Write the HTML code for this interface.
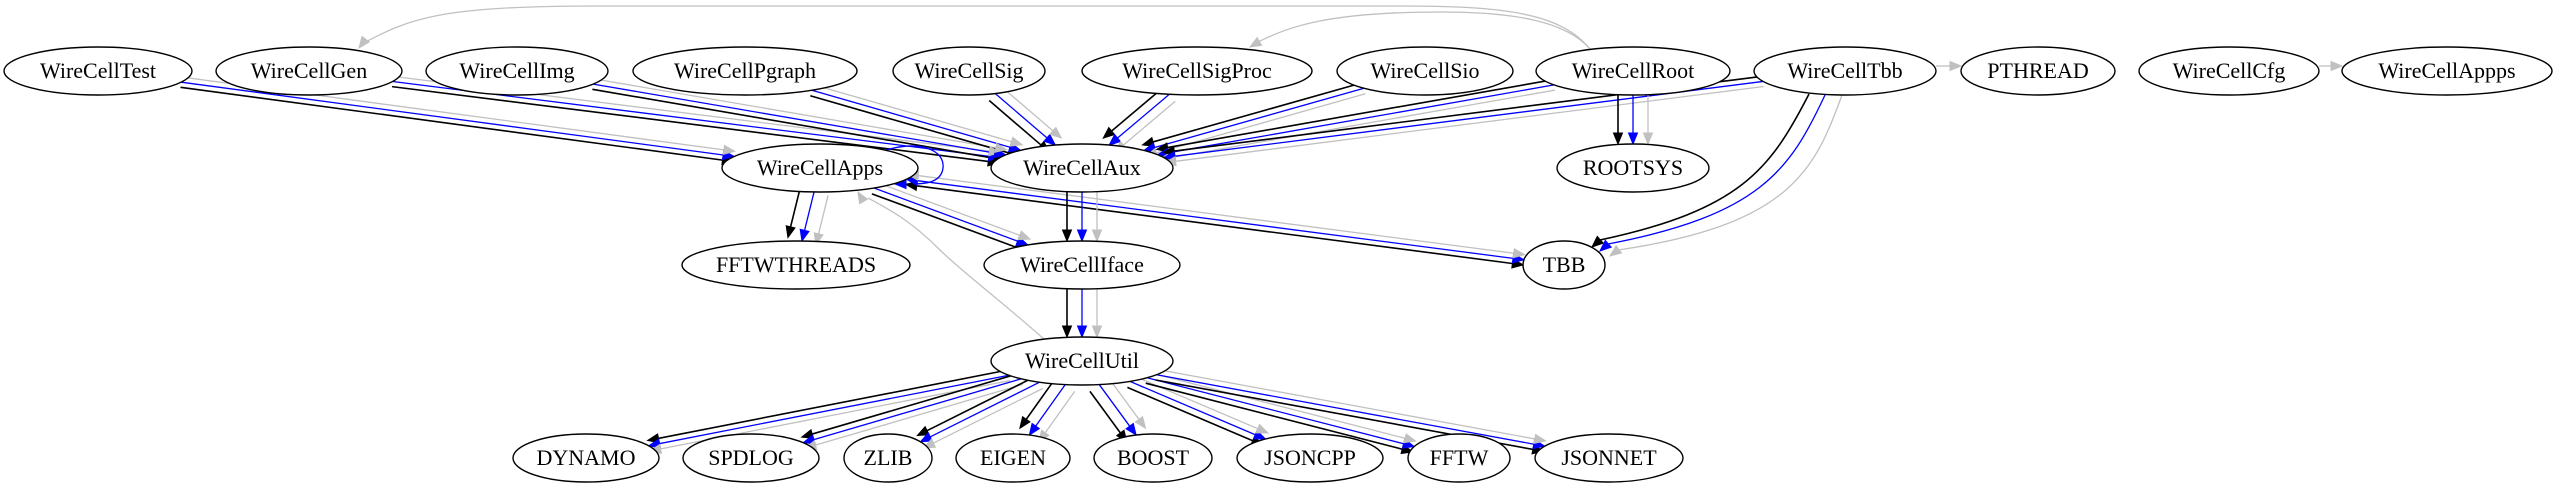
<!DOCTYPE html>
<html><head><meta charset="utf-8"><style>
html,body{margin:0;padding:0;background:#fff;}
svg{display:block}
text{font-family:"Liberation Serif",serif;font-size:22px;fill:#000}
</style></head><body>
<svg id="g" width="2557" height="484" viewBox="0 0 2557 484" xmlns="http://www.w3.org/2000/svg">
<g id="edges" fill="none"></g>
<g id="heads"></g>
<g id="nodes"></g>
</svg>
<script>
var N={
Test:[98,71,94,"WireCellTest"],Gen:[309,71,93,"WireCellGen"],Img:[517,71,91,"WireCellImg"],
Pgraph:[745,71,112,"WireCellPgraph"],Sig:[969,71,76,"WireCellSig"],SigProc:[1197,71,115,"WireCellSigProc"],
Sio:[1425,71,88,"WireCellSio"],Root:[1633,71,97,"WireCellRoot"],Tbb:[1845,71,91,"WireCellTbb"],
PTHREAD:[2038,71,77,"PTHREAD"],Cfg:[2229,71,90,"WireCellCfg"],Appps:[2447,71,105,"WireCellAppps"],
Apps:[820,168,98,"WireCellApps"],Aux:[1082,168,91,"WireCellAux"],ROOTSYS:[1633,168,76,"ROOTSYS"],
FFTWT:[796,265,114,"FFTWTHREADS"],Iface:[1082,265,98,"WireCellIface"],TBB:[1564,265,41,"TBB"],
Util:[1082,361,91,"WireCellUtil"],
DYNAMO:[586,458,73,"DYNAMO"],SPDLOG:[751,458,68,"SPDLOG"],ZLIB:[888,458,44,"ZLIB"],EIGEN:[1013,458,57,"EIGEN"],
BOOST:[1153,458,59,"BOOST"],JSONCPP:[1310,458,73,"JSONCPP"],FFTW:[1459,458,51,"FFTW"],JSONNET:[1609,458,74,"JSONNET"]};
var RY=24,NS="http://www.w3.org/2000/svg";
var E=document.getElementById("edges"),H=document.getElementById("heads"),ND=document.getElementById("nodes");
function el(t,a,p){var e=document.createElementNS(NS,t);for(var k in a)e.setAttribute(k,a[k]);p.appendChild(e);return e;}
function bnd(n,dx,dy){var a=N[n];var t=1/Math.sqrt((dx/a[2])*(dx/a[2])+(dy/RY)*(dy/RY));return [a[0]+t*dx,a[1]+t*dy];}
function head(tip,dx,dy,c){var L=11,W=4.5;var bx=tip[0]-dx*L,by=tip[1]-dy*L;
 el("polygon",{points:tip[0]+","+tip[1]+" "+(bx-dy*W)+","+(by+dx*W)+" "+(bx+dy*W)+","+(by-dx*W),fill:c,stroke:c,"stroke-width":1},H);}
var COL=[["#000",1,1.6],["#0000ff",0,1.3],["#c0c0c0",-1,1.3]];
function edge(a,b,cols,both){
 var A=N[a],B=N[b];var dx=B[0]-A[0],dy=B[1]-A[1],l=Math.hypot(dx,dy);dx/=l;dy/=l;
 var nx=-dy,ny=dx;var sep=5+10*Math.abs(dy)*Math.abs(dy);
 var s=bnd(a,dx,dy),t=bnd(b,-dx,-dy);
 COL.forEach(function(c,i){if(cols.indexOf(i)<0)return;var o=c[1]*sep;
  var s1=[s[0]+nx*o,s[1]+ny*o],t1=[t[0]+nx*o,t[1]+ny*o];
  var sx=s1[0]+(both?dx*10:0),sy=s1[1]+(both?dy*10:0);
  el("line",{x1:sx,y1:sy,x2:t1[0]-dx*10,y2:t1[1]-dy*10,stroke:c[0],"stroke-width":c[2]},E);
  head(t1,dx,dy,c[0]);if(both)head(s1,-dx,-dy,c[0]);});
}
var T=[0,1,2];
edge("Test","Apps",T);
["Gen","Img","Pgraph","Sig","SigProc","Sio","Root","Tbb"].forEach(function(n){edge(n,"Aux",T)});
edge("Apps","FFTWT",T);edge("Apps","Iface",T);edge("Apps","TBB",T,true);
edge("Aux","Iface",T);edge("Iface","Util",T);edge("Root","ROOTSYS",T);
["DYNAMO","SPDLOG","ZLIB","EIGEN","BOOST","JSONCPP","FFTW","JSONNET"].forEach(function(n){edge("Util",n,T)});
edge("Tbb","PTHREAD",[2]);edge("Cfg","Appps",[2]);
// Tbb -> TBB curves
[["#000",1.6,"M1809,94 C1770,170 1740,210 1600,240",[1592,247],-0.75,0.66],
 ["#0000ff",1.3,"M1825,95 C1790,170 1760,215 1608,244",[1600,251],-0.75,0.66],
 ["#c0c0c0",1.3,"M1842,95 C1815,170 1790,225 1618,250",[1610,256],-0.8,0.6]].forEach(function(p){
 el("path",{d:p[2],stroke:p[0],"stroke-width":p[1]},E);head(p[3],p[4],p[5],p[0]);});
el("path",{d:"M1590,49 C1560,12 1500,6 1400,6 L600,6 C440,6 410,18 362,44",stroke:"#c0c0c0","stroke-width":1.3},E);
head([359,48],-0.6,0.8,"#c0c0c0");
el("path",{d:"M1590,49 C1565,20 1510,12 1440,12 C1330,12 1290,26 1258,42",stroke:"#c0c0c0","stroke-width":1.3},E);
head([1250,47],-0.85,0.5,"#c0c0c0");
el("path",{d:"M1045,340 C1000,300 960,270 940,250 C910,220 890,210 868,198",stroke:"#c0c0c0","stroke-width":1.3},E);
head([858,192],-0.5,-0.86,"#c0c0c0");
el("path",{d:"M886,150 C920,140 945,150 943,168 C941,185 920,184 904,184",stroke:"#0000ff","stroke-width":1.3},E);
head([895,184],-1,0,"#0000ff");
for(var k in N){var a=N[k];
 el("ellipse",{cx:a[0],cy:a[1],rx:a[2],ry:RY,fill:"#fff",stroke:"#000","stroke-width":1.4},ND);
 var t=el("text",{x:a[0],y:a[1]+7,"text-anchor":"middle"},ND);t.textContent=a[3];}
</script>
</body></html>
